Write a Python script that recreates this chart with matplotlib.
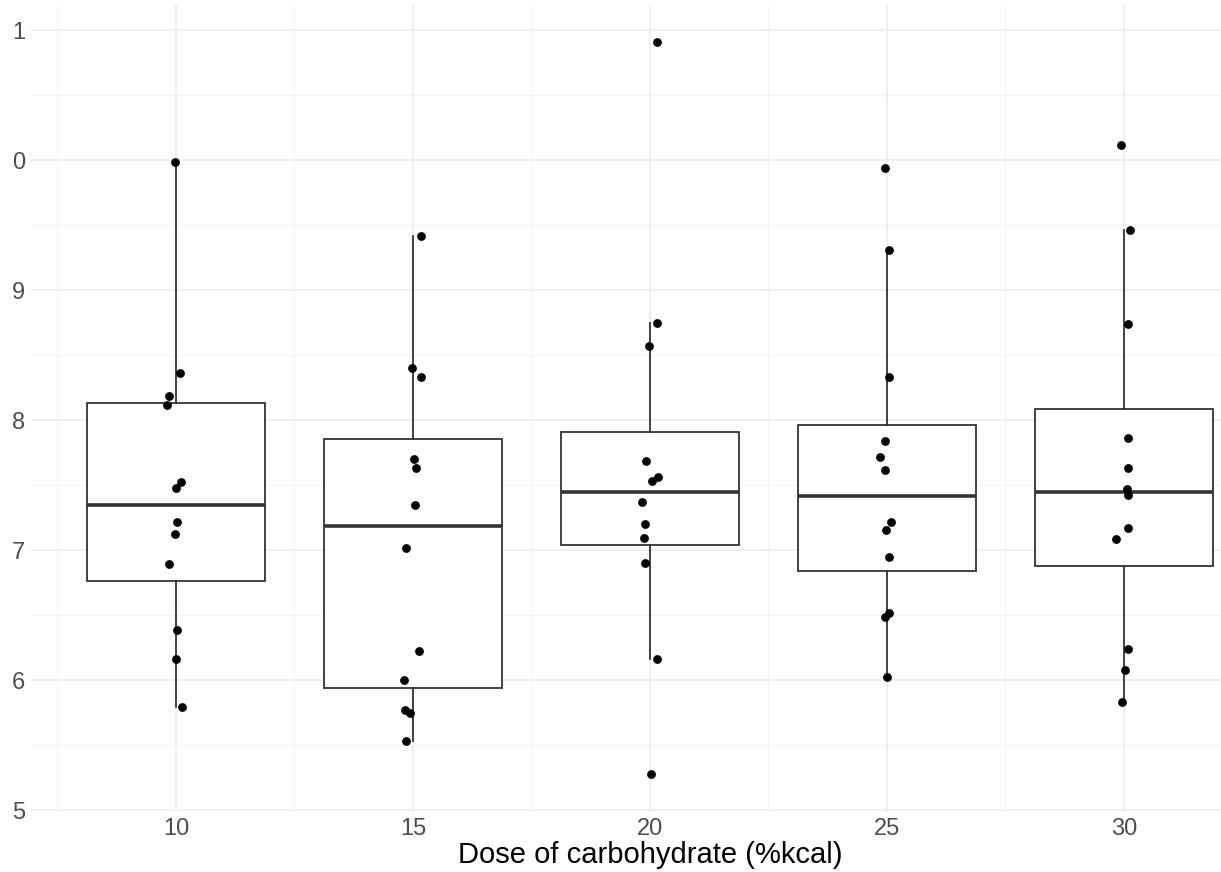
import numpy as np
import matplotlib.pyplot as plt

plt.rcParams['font.family'] = ['Liberation Sans', 'DejaVu Sans']

# Doses and the measured values for each dose group
doses = [10, 15, 20, 25, 30]

vals_10 = [9.985, 8.36, 8.185, 8.115, 7.52, 7.48, 7.215, 7.12, 6.89, 6.385, 6.16, 5.79]
vals_15 = [9.415, 8.40, 8.33, 7.70, 7.63, 7.35, 7.015, 6.22, 6.00, 5.77, 5.75, 5.53]
vals_20 = [10.91, 8.75, 8.57, 7.685, 7.56, 7.53, 7.37, 7.20, 7.09, 6.90, 6.16, 5.28]
vals_25 = [9.94, 9.31, 8.33, 7.84, 7.715, 7.615, 7.215, 7.155, 6.95, 6.515, 6.485, 6.02]
vals_30 = [10.115, 9.46, 8.74, 7.865, 7.63, 7.47, 7.42, 7.17, 7.085, 6.24, 6.08, 5.83]

# jittered dose positions of the points
jit_10 = [9.98, 10.08, 9.85, 9.81, 10.11, 10.0, 10.02, 9.98, 9.85, 10.02, 10.0, 10.13]
jit_15 = [15.17, 14.98, 15.17, 15.02, 15.06, 15.04, 14.85, 15.13, 14.81, 14.83, 14.94, 14.85]
jit_20 = [20.15, 20.15, 19.98, 19.92, 20.17, 20.04, 19.83, 19.89, 19.87, 19.89, 20.15, 20.02]
jit_25 = [24.96, 25.04, 25.04, 24.96, 24.85, 24.96, 25.08, 24.98, 25.04, 25.04, 24.96, 25.0]
jit_30 = [29.94, 30.13, 30.08, 30.08, 30.08, 30.06, 30.08, 30.08, 29.83, 30.08, 30.02, 29.96]

y_ticks = [5, 6, 7, 8, 9, 10, 11]
y_tick_labels = ['5', '6', '7', '8', '9', '0', '1']
x_ticks = [10, 15, 20, 25, 30]

groups = [vals_10, vals_15, vals_20, vals_25, vals_30]
jitters = [jit_10, jit_15, jit_20, jit_25, jit_30]

fig = plt.figure(figsize=(12.21, 8.72), dpi=100)
# the panel runs past the right edge of the picture, like the reference crop
ax = fig.add_axes([31 / 1221, 60 / 872, 1238 / 1221, 807 / 872])

line_col = '#333333'
ax.boxplot(groups, positions=doses, widths=3.75, whis=1.5,
           showfliers=False, showcaps=False, patch_artist=True,
           boxprops=dict(facecolor='white', edgecolor=line_col, linewidth=1.3),
           whiskerprops=dict(color=line_col, linewidth=1.3),
           medianprops=dict(color=line_col, linewidth=2.6),
           zorder=2)

for jx, vals in zip(jitters, groups):
    ax.scatter(jx, vals, s=40, color='black', zorder=3, linewidths=0)

ax.set_xlim(6.941, 33.06)
ax.set_ylim(4.985, 4.985 + 807 / 130)

ax.set_xticks(x_ticks)
ax.set_xticks([7.5, 12.5, 17.5, 22.5, 27.5, 32.5], minor=True)
ax.set_yticks(y_ticks)
ax.set_yticklabels(y_tick_labels)
ax.set_yticks([5.5, 6.5, 7.5, 8.5, 9.5, 10.5], minor=True)

ax.grid(which='major', color='#ebebeb', linewidth=1.1, zorder=0)
ax.grid(which='minor', color='#f4f4f4', linewidth=0.8, zorder=0)
ax.set_axisbelow(True)

for s in ax.spines.values():
    s.set_visible(False)
ax.tick_params(which='both', length=0, labelsize=17, labelcolor='#4d4d4d', pad=4)

ax.set_xlabel('Dose of carbohydrate (%kcal)', fontsize=21, color='black')
ax.xaxis.set_label_coords((650 - 31) / 1238, -0.036, transform=ax.transAxes)
ax.xaxis.label.set_verticalalignment('top')

fig.savefig('out.png', dpi=100)
